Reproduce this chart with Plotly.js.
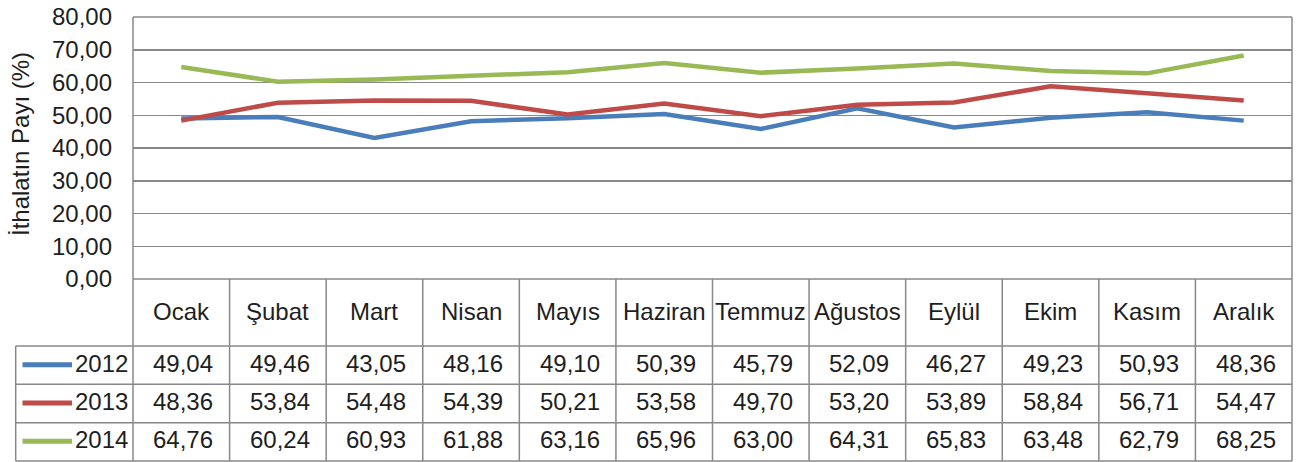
<!DOCTYPE html>
<html>
<head>
<meta charset="utf-8">
<script src="https://cdn.plot.ly/plotly-3.0.1.min.js"></script>
<style>html,body{margin:0;padding:0;background:#fff;}#chart{width:1300px;height:462px;}</style>
</head>
<body>
<div id="chart"></div>
<script>
const categories = ['Ocak','Şubat','Mart','Nisan','Mayıs','Haziran','Temmuz','Ağustos','Eylül','Ekim','Kasım','Aralık'];
const seriesNames = ['2012','2013','2014'];
const v2012 = [49.04,49.46,43.05,48.16,49.10,50.39,45.79,52.09,46.27,49.23,50.93,48.36];
const v2013 = [48.36,53.84,54.48,54.39,50.21,53.58,49.70,53.20,53.89,58.84,56.71,54.47];
const v2014 = [64.76,60.24,60.93,61.88,63.16,65.96,63.00,64.31,65.83,63.48,62.79,68.25];
const yTitle = 'İthalatın Payı (%)';

const seriesValues = [v2012, v2013, v2014];
const colors = ['#4a7ebb', '#be4b48', '#98b954'];
const FONT = 'Liberation Sans, Arial, Helvetica, sans-serif';
const FS = 24;
const GRID = '#888888';

// pixel geometry helpers
const L = 133, R = 1292, T = 17, B = 279;
const W = R - L, H = B - T;
const px = p => (p - L) / W;           // pixel x -> paper x
const py = p => (B - p) / H;           // pixel y -> paper y

const rowEdges = [279, 346, 384.3, 422.7, 461];
const leftEdge = 15.7;

const traces = seriesValues.map((vals, k) => ({
  type: 'scatter', mode: 'lines',
  x: categories, y: vals, name: seriesNames[k],
  line: {color: colors[k], width: 4.5},
  hoverinfo: 'skip'
}));

const shapes = [];
const lineStyle = {color: GRID, width: 1.5};
shapes.push({type:'line', xref:'paper', yref:'paper', x0:1, x1:1, y0:1, y1:py(rowEdges[4]), line:lineStyle});
shapes.push({type:'line', xref:'paper', yref:'paper', x0:0, x1:0, y0:1, y1:py(rowEdges[4]), line:lineStyle});
shapes.push({type:'line', xref:'paper', yref:'paper', x0:0, x1:1, y0:1, y1:1, line:lineStyle});
shapes.push({type:'line', xref:'paper', yref:'paper', x0:0, x1:1, y0:0, y1:0, line:lineStyle});
for (let r = 1; r < rowEdges.length; r++) {
  shapes.push({type:'line', xref:'paper', yref:'paper', x0:px(leftEdge), x1:1, y0:py(rowEdges[r]), y1:py(rowEdges[r]), line:lineStyle});
}
shapes.push({type:'line', xref:'paper', yref:'paper', x0:px(leftEdge), x1:px(leftEdge), y0:py(rowEdges[1]), y1:py(rowEdges[4]), line:lineStyle});
for (let i = 1; i < categories.length; i++) {
  shapes.push({type:'line', xref:'x', yref:'paper', x0:i-0.5, x1:i-0.5, y0:0, y1:py(rowEdges[4]), line:lineStyle});
}

const annotations = [];
const txtFont = {family: FONT, size: FS, color: '#1e1e1e'};
const catY = py((rowEdges[0] + rowEdges[1]) / 2 - 1.5);
categories.forEach((c, i) => {
  annotations.push({xref:'x', yref:'paper', x:i, y:catY, text:c, showarrow:false, font:txtFont, xanchor:'center', yanchor:'middle'});
});
seriesValues.forEach((vals, k) => {
  const cy = (rowEdges[k+1] + rowEdges[k+2]) / 2 - 2;
  vals.forEach((v, i) => {
    annotations.push({xref:'x', yref:'paper', x:i, y:py(cy), xshift:2, text:v.toFixed(2).replace('.', ','), showarrow:false, font:txtFont, xanchor:'center', yanchor:'middle'});
  });
  annotations.push({xref:'paper', yref:'paper', x:px(130), y:py(cy), text:seriesNames[k], showarrow:false, font:txtFont, xanchor:'right', yanchor:'middle'});
  shapes.push({type:'line', xref:'paper', yref:'paper', x0:px(22.5), x1:px(72), y0:py(cy+1.5), y1:py(cy+1.5), line:{color:colors[k], width:5}});
});
annotations.push({xref:'paper', yref:'paper', x:px(20), y:py(144), text:yTitle, textangle:-90, showarrow:false, font:txtFont, xanchor:'center', yanchor:'middle'});

const layout = {
  width: 1300, height: 462,
  margin: {l: L, r: 1300 - R, t: T, b: 462 - B, pad: 0},
  paper_bgcolor: '#ffffff', plot_bgcolor: '#ffffff',
  separators: ',.',
  showlegend: false,
  font: {family: FONT, size: FS, color: '#1e1e1e'},
  xaxis: {type:'category', range:[-0.5, categories.length - 0.5], showgrid:false, showticklabels:false, zeroline:false, showline:false, ticks:'', fixedrange:true},
  yaxis: {range:[0, 80], dtick:10, tickformat:'.2f', showgrid:true, gridcolor:GRID, gridwidth:1.5, zeroline:false, showline:false, ticks:'', ticklabelstandoff:20, tickfont:{family:FONT, size:FS, color:'#1e1e1e'}, fixedrange:true},
  shapes: shapes,
  annotations: annotations
};

Plotly.newPlot('chart', traces, layout, {displayModeBar:false, staticPlot:true});
</script>
</body>
</html>
